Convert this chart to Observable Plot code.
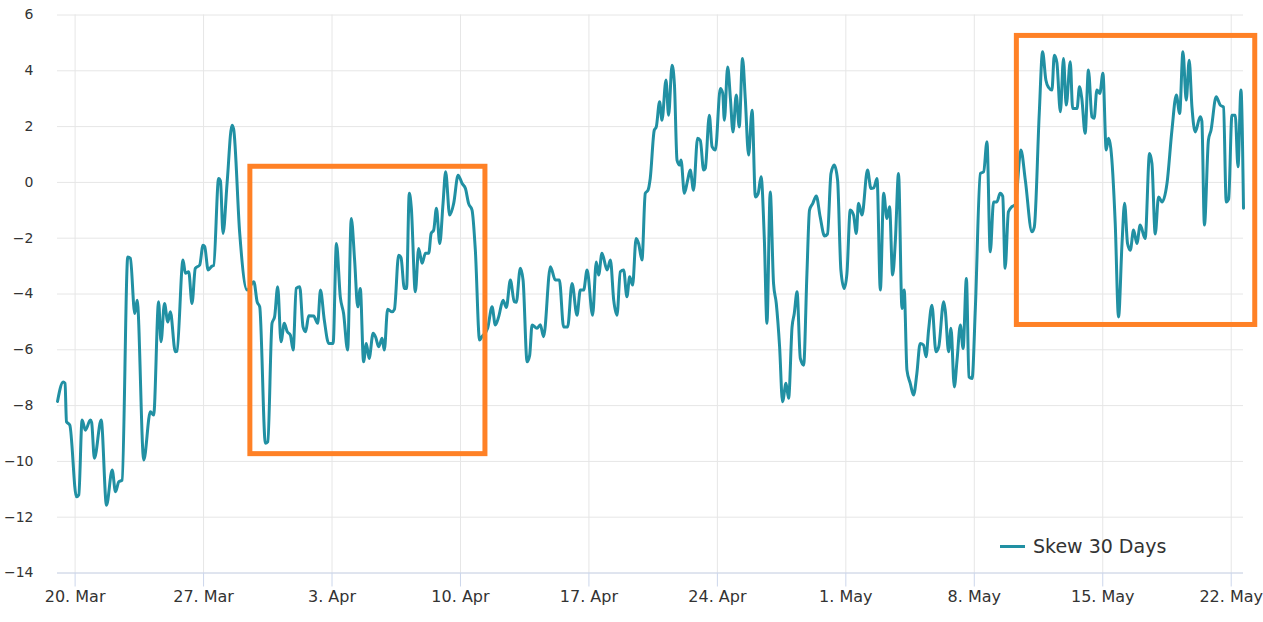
<!DOCTYPE html>
<html>
<head>
<meta charset="utf-8">
<script src="https://cdn.jsdelivr.net/npm/d3@7"></script>
<script src="https://cdn.jsdelivr.net/npm/@observablehq/plot@0.6"></script>
<style>
  html, body { margin: 0; padding: 0; background: #fff; }
  #wrap { position: relative; width: 1263px; height: 622px; font-family: "DejaVu Sans", sans-serif; }
  #legend { position: absolute; left: 1000px; top: 535px; display: flex; align-items: center; gap: 8px; font-size: 19px; color: #333; white-space: nowrap; }
  #legend .sw { width: 25px; height: 3px; background: #2190a3; display: inline-block; }
</style>
</head>
<body>
<div id="wrap"><div id="legend"><span class="sw"></span><span>Skew 30 Days</span></div></div>
<script>
// Days since 20 Mar 2023 (UTC) and the 30-day skew values
const dayOffset = [
-0.96,-0.65,-0.55,-0.47,-0.29,0.07,0.20,0.38,0.56,0.83,0.90,1.05,1.42,1.71,2.02,2.20,2.38,2.56,2.87,3.01,
3.25,3.38,3.74,4.10,4.28,4.55,4.68,4.87,5.05,5.19,5.46,5.55,5.88,6.01,6.19,6.37,6.55,6.79,6.97,7.06,
7.25,7.46,7.55,7.82,7.92,8.06,8.28,8.55,8.64,8.97,9.37,9.74,9.92,10.06,10.37,10.50,10.73,10.87,11.04,11.22,
11.40,11.56,11.73,11.88,12.05,12.24,12.42,12.56,12.73,13.00,13.22,13.37,13.58,13.82,14.06,14.24,14.45,14.63,14.85,15.05,
15.23,15.40,15.54,15.72,15.87,16.02,16.24,16.38,16.54,16.73,16.85,17.03,17.27,17.40,17.63,17.76,17.94,18.06,18.21,18.32,
18.54,18.72,18.91,19.09,19.27,19.40,19.54,19.69,19.87,20.05,20.19,20.41,20.63,20.87,21.09,21.27,21.44,21.63,21.81,22.04,
22.17,22.48,22.72,22.90,23.08,23.32,23.50,23.72,23.93,24.04,24.26,24.41,24.63,24.77,24.90,25.17,25.35,25.53,25.90,26.17,
26.39,26.62,26.84,27.08,27.35,27.53,27.71,27.90,28.20,28.40,28.53,28.71,28.99,29.17,29.35,29.53,29.71,29.89,30.07,30.22,
30.38,30.57,30.71,30.89,31.07,31.22,31.34,31.56,31.67,31.85,31.98,32.20,32.34,32.53,32.66,32.80,32.94,33.02,33.20,33.38,
33.52,33.70,33.92,34.07,34.25,34.34,34.56,34.71,34.89,35.16,35.29,35.38,35.56,35.71,35.85,36.03,36.19,36.37,36.52,36.70,
36.89,37.07,37.22,37.38,37.56,37.70,37.88,38.06,38.21,38.39,38.55,38.74,38.88,39.07,39.19,39.34,39.52,39.70,39.88,40.02,
40.20,40.39,40.60,40.84,41.00,41.19,41.37,41.55,41.73,41.91,42.06,42.24,42.42,42.57,42.69,42.88,43.18,43.37,43.52,43.70,
43.88,44.06,44.24,44.38,44.55,44.70,44.87,45.06,45.18,45.33,45.51,45.69,45.87,46.05,46.23,46.37,46.51,46.69,46.91,47.06,
47.33,47.42,47.60,47.73,47.91,48.06,48.24,48.39,48.57,48.71,48.88,49.06,49.33,49.51,49.69,49.87,50.05,50.23,50.41,50.55,
50.68,50.86,51.05,51.23,51.54,51.78,52.14,52.27,52.54,52.72,52.90,53.05,53.23,53.36,53.50,53.69,53.86,54.01,54.23,54.36,
54.60,54.73,54.86,55.04,55.22,55.41,55.53,55.68,55.84,56.01,56.19,56.31,56.44,56.68,56.86,57.05,57.19,57.35,57.50,57.68,
57.86,58.04,58.31,58.55,58.68,58.86,59.04,59.23,59.50,59.77,60.01,60.19,60.37,60.55,60.71,60.86,61.04,61.31,61.40,61.54,
61.76,61.90,62.18,62.40,62.58,62.73,62.86,63.04,63.22,63.37,63.53,63.67
];
const skew = [
-7.85,-7.15,-7.20,-8.58,-8.70,-11.27,-11.20,-8.52,-8.88,-8.52,-8.60,-9.89,-8.52,-11.57,-10.31,-11.09,-10.73,-10.67,-2.67,-2.72,
-4.70,-4.22,-9.95,-8.22,-8.34,-4.28,-5.71,-4.34,-5.00,-4.64,-6.07,-6.05,-2.78,-3.26,-3.20,-4.34,-3.08,-2.96,-2.25,-2.30,
-3.14,-3.00,-2.98,0.14,0.05,-1.83,-0.04,2.05,1.90,-1.83,-3.86,-3.56,-4.28,-4.46,-9.35,-9.30,-5.05,-4.82,-3.74,-5.71,
-5.05,-5.35,-5.47,-6.01,-3.80,-3.74,-5.18,-5.35,-4.78,-4.79,-5.05,-3.86,-4.94,-5.77,-5.77,-2.19,-4.10,-4.70,-6.01,-1.29,
-2.78,-4.46,-3.80,-6.43,-5.77,-6.31,-5.41,-5.55,-5.89,-5.59,-6.01,-4.55,-4.64,-4.55,-2.61,-2.70,-3.80,-3.80,-0.39,-0.90,
-3.92,-2.37,-2.90,-2.54,-2.54,-1.83,-1.71,-0.93,-2.19,-0.75,0.38,-1.17,-0.75,0.26,-0.04,-0.22,-0.75,-0.99,-2.43,-5.65,
-5.53,-5.23,-4.46,-5.11,-4.82,-4.22,-4.48,-3.50,-4.28,-4.30,-3.08,-3.50,-6.43,-6.20,-5.11,-5.23,-5.10,-5.53,-3.02,-3.50,
-3.50,-5.18,-5.18,-3.62,-4.76,-3.86,-3.86,-3.14,-4.76,-2.85,-3.32,-2.54,-3.14,-2.78,-4.22,-4.76,-3.20,-3.14,-4.10,-3.38,
-3.68,-2.01,-2.20,-2.78,-0.39,-0.28,0.14,1.87,1.99,2.89,2.23,3.67,2.41,4.20,3.50,0.80,0.62,0.80,-0.39,0.08,
0.44,-0.28,1.58,1.50,0.44,0.50,2.41,1.28,1.16,3.37,3.20,2.23,4.14,3.00,1.81,3.13,1.99,4.44,3.00,0.98,
2.59,-0.52,-0.40,0.20,-2.07,-5.05,-0.34,-3.62,-4.34,-5.89,-7.86,-7.20,-7.74,-5.18,-4.70,-3.92,-6.31,-6.55,-3.26,-0.99,
-0.75,-0.49,-1.23,-1.92,-1.85,0.32,0.62,0.08,-3.14,-3.80,-3.26,-0.99,-1.17,-1.83,-0.75,-1.17,0.44,-0.22,-0.20,0.14,
-3.86,-0.39,-1.29,-0.87,-3.32,-2.07,0.32,-4.52,-3.86,-6.73,-7.20,-7.62,-6.85,-5.77,-5.83,-6.25,-5.29,-4.40,-6.07,-5.90,
-4.28,-4.60,-6.07,-5.23,-7.33,-6.37,-5.11,-5.95,-3.44,-6.97,-7.03,-4.46,0.32,0.38,1.46,-2.49,-0.70,-0.70,-0.39,-0.50,
-3.08,-1.05,-0.87,-0.80,1.16,0.08,-1.77,-1.60,2.47,4.68,3.67,3.40,3.31,4.56,4.30,2.53,4.44,2.77,4.32,2.65,
2.65,3.43,3.00,1.76,4.03,2.35,2.30,3.31,3.19,3.91,1.16,1.58,1.22,-1.47,-4.82,-2.19,-0.75,-2.19,-2.43,-1.71,
-2.19,-1.53,-2.01,1.04,0.68,-1.85,-0.52,-0.70,-0.04,1.87,3.13,2.47,4.68,2.95,4.38,2.71,1.81,2.35,2.20,-1.53,
1.52,1.87,3.07,2.77,2.70,-0.70,-0.60,2.41,2.41,0.56,3.31,-0.93
];
// Axis ticks
const tickDays = [0, 7, 14, 21, 28, 35, 42, 49, 56, 63];
const tickLabels = ["20. Mar", "27. Mar", "3. Apr", "10. Apr", "17. Apr", "24. Apr", "1. May", "8. May", "15. May", "22. May"];
const yTicks = [-14, -12, -10, -8, -6, -4, -2, 0, 2, 4, 6];
// Highlight boxes (in days and skew units)
const boxStart = [9.55, 51.32];
const boxEnd = [22.36, 64.31];
const boxTop = [0.56, 5.25];
const boxBottom = [-9.74, -5.11];

const base = Date.UTC(2023, 2, 20);
const DAY = 864e5;
const toDate = d => new Date(base + d * DAY);
const data = dayOffset.map((d, i) => ({date: toDate(d), value: skew[i]}));
const tickDates = tickDays.map(toDate);
const boxes = boxStart.map((s, i) => ({x1: toDate(s), x2: toDate(boxEnd[i]), y1: boxBottom[i], y2: boxTop[i]}));
const fmt = d => tickLabels[tickDays.indexOf(Math.round((+d - base) / DAY))];

const chart = Plot.plot({
  width: 1263,
  height: 622,
  marginTop: 14.5,
  marginBottom: 49.5,
  marginLeft: 57,
  marginRight: 20,
  style: {fontFamily: "DejaVu Sans", background: "white", overflow: "visible"},
  x: {type: "utc", domain: d3.extent(data, d => d.date)},
  y: {domain: [-14, 6]},
  marks: [
    Plot.gridY(yTicks, {stroke: "#e6e6e6", strokeOpacity: 1}),
    Plot.gridX(tickDates, {stroke: "#e6e6e6", strokeOpacity: 1}),
    Plot.axisY(yTicks, {tickSize: 0, tickPadding: 24, fontSize: 14, fill: "#333", label: null}),
    Plot.axisX(tickDates, {tickSize: 14, tickPadding: 4, fontSize: 16, stroke: "#ccd6eb", fill: "#333", label: null, tickFormat: fmt}),
    Plot.ruleY([-14], {stroke: "#ccd6eb"}),
    Plot.line(data, {x: "date", y: "value", stroke: "#2190a3", strokeWidth: 3, curve: "monotone-x"}),
    Plot.rect(boxes, {x1: "x1", x2: "x2", y1: "y1", y2: "y2", fill: "none", stroke: "#ff8126", strokeWidth: 5})
  ]
});
document.getElementById("wrap").prepend(chart);
</script>
</body>
</html>
